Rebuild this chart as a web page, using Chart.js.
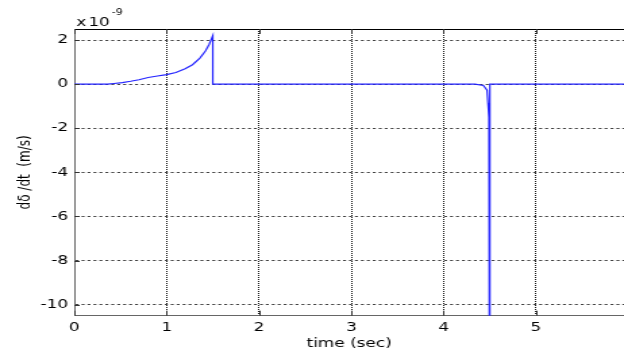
<!DOCTYPE html>
<html>
<head>
<meta charset="utf-8">
<style>
  html, body { margin: 0; padding: 0; background: #fff; overflow: hidden; }
  #plot { display: block; }
</style>
<script src="https://cdn.jsdelivr.net/npm/chart.js@4/dist/chart.umd.min.js"></script>
</head>
<body>
<!-- drawn at 462 px wide and stretched to 624 px, like the exported figure -->
<canvas id="plot" width="462" height="351" style="width:624px;height:351px"></canvas>
<script>
// time axis (s)
const timeSec = [0, 0.36, 0.43, 0.52, 0.61, 0.70, 0.80, 0.90, 1.00, 1.10, 1.20, 1.28, 1.36, 1.42, 1.46, 1.50,
                 1.50, 4.34, 4.43, 4.47, 4.48, 4.49, 4.495, 4.50, 5.96];
// d(delta)/dt in units of 1e-9 m/s
const rateE9 = [0, 0, 0.03, 0.07, 0.13, 0.20, 0.30, 0.37, 0.43, 0.53, 0.70, 0.88, 1.18, 1.50, 1.80, 2.20,
                0, 0, -0.06, -0.27, -0.86, -1.50, -12, 0, 0];

const xTicks = [0, 1, 2, 3, 4, 5];
const yTicks = [-10, -8, -6, -4, -2, 0, 2];
const yExponent = '-9';
const xTitle = 'time (sec)';
const yTitle = 'dδ /dt  (m/s)';

const tickFont = { family: '"DejaVu Sans", sans-serif', size: 12.5 };

// top frame line, inward tick marks and the axis multiplier
const frame = {
  id: 'frame',
  afterDraw(chart) {
    const { ctx, chartArea: a, scales: { x, y } } = chart;
    ctx.save();
    ctx.lineWidth = 1;
    ctx.strokeStyle = '#000';
    ctx.beginPath();
    ctx.moveTo(a.left, a.top + 0.5);
    ctx.lineTo(a.right, a.top + 0.5);
    ctx.stroke();

    ctx.strokeStyle = '#333';
    ctx.beginPath();
    xTicks.forEach(v => {
      const px = Math.round(x.getPixelForValue(v)) + 0.5;
      ctx.moveTo(px, a.bottom); ctx.lineTo(px, a.bottom - 5);
      ctx.moveTo(px, a.top); ctx.lineTo(px, a.top + 5);
    });
    yTicks.forEach(v => {
      const py = Math.round(y.getPixelForValue(v)) + 0.5;
      ctx.moveTo(a.left, py); ctx.lineTo(a.left + 4, py);
    });
    ctx.stroke();

    ctx.fillStyle = '#000';
    ctx.textBaseline = 'alphabetic';
    ctx.font = '12.5px "DejaVu Sans"';
    const x0 = a.left + 1.5;
    ctx.fillText('x', x0, 26);
    ctx.fillText('10', x0 + 8.9, 26);
    const w = ctx.measureText('10').width;
    ctx.font = '8px "DejaVu Sans"';
    ctx.fillText(yExponent, x0 + 8.9 + w + 1.5, 15);
    ctx.restore();
  }
};

const chart = new Chart(document.getElementById('plot'), {
  type: 'line',
  data: {
    datasets: [{
      data: timeSec.map((t, i) => ({ x: t, y: rateE9[i] })),
      borderColor: 'rgb(35,35,255)',
      borderWidth: 1.2,
      pointRadius: 0,
      tension: 0,
      fill: false
    }]
  },
  options: {
    responsive: false,
    animation: false,
    events: [],
    layout: { padding: { top: 29, right: 0, bottom: 0, left: 0 } },
    plugins: { legend: { display: false }, tooltip: { enabled: false } },
    scales: {
      x: {
        type: 'linear',
        min: 0,
        max: 5.953,
        afterBuildTicks: s => { s.ticks = xTicks.map(v => ({ value: v })); },
        afterFit: s => { s.height = 35.3; },
        ticks: { font: tickFont, color: '#000', padding: 5, maxRotation: 0 },
        grid: { color: '#111', lineWidth: 1, drawTicks: false },
        border: { display: true, color: '#666', width: 1, dash: [1, 1] },
        title: {
          display: true, text: xTitle, color: '#000',
          font: { family: '"DejaVu Sans", sans-serif', size: 12.5 },
          padding: { top: 0, bottom: 0 }
        }
      },
      y: {
        type: 'linear',
        min: -10.5,
        max: 2.5,
        afterBuildTicks: s => { s.ticks = yTicks.map(v => ({ value: v })); },
        afterFit: s => { s.width = 55; },
        ticks: { font: tickFont, color: '#000', padding: 4.5 },
        grid: { color: '#444', lineWidth: 1, drawTicks: false },
        border: { display: true, color: '#666', width: 1, dash: [2.2, 2.2] },
        title: {
          display: true, text: yTitle, color: '#000',
          font: { family: '"DejaVu Sans", sans-serif', size: 12 },
          padding: { top: 12, bottom: 0 }
        }
      }
    }
  },
  plugins: [frame]
});
chart.canvas.style.width = '624px';
chart.canvas.style.height = '351px';
</script>
</body>
</html>
